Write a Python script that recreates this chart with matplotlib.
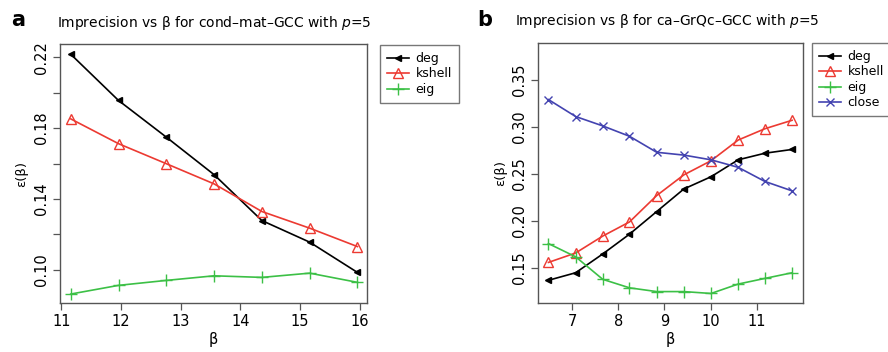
import numpy as np
import matplotlib.pyplot as plt

# panel a: cond-mat-GCC
beta_a = [11.16, 11.96, 12.76, 13.56, 14.36, 15.16, 15.96]
deg_a = [0.2217, 0.1956, 0.1749, 0.1537, 0.1278, 0.1156, 0.0985]
kshell_a = [0.1852, 0.1712, 0.1599, 0.1485, 0.1329, 0.1235, 0.1131]
eig_a = [0.0863, 0.0912, 0.0940, 0.0966, 0.0957, 0.0981, 0.0929]

# panel b: ca-GrQc-GCC
beta_b = [6.48, 7.07, 7.66, 8.24, 8.83, 9.42, 10.01, 10.60, 11.18, 11.77]
deg_b = [0.137, 0.145, 0.165, 0.186, 0.210, 0.234, 0.247, 0.265, 0.272, 0.276]
kshell_b = [0.156, 0.166, 0.184, 0.199, 0.227, 0.249, 0.264, 0.286, 0.298, 0.307]
eig_b = [0.176, 0.162, 0.138, 0.129, 0.125, 0.125, 0.123, 0.133, 0.139, 0.145]
close_b = [0.329, 0.311, 0.301, 0.290, 0.273, 0.270, 0.265, 0.257, 0.242, 0.232]

RED = '#ec3a32'
GREEN = '#3cc046'
BLUE = '#4343b0'
EDGE = '#555555'
FS = 9.5

plt.rcParams['font.family'] = 'DejaVu Sans'

fig = plt.figure(figsize=(8.88, 3.52), dpi=100)
ax1 = fig.add_axes([0.0676, 0.139, 0.3457, 0.736])
ax2 = fig.add_axes([0.6062, 0.139, 0.2977, 0.7386])


def style(ax):
    for s in ax.spines.values():
        s.set_color(EDGE)
        s.set_linewidth(1.0)
    ax.tick_params(direction='out', length=5, width=0.9, color=EDGE,
                   labelsize=FS + 1, pad=3)
    for lab in ax.get_yticklabels():
        lab.set_rotation(90)
        lab.set_va('center')
    ax.set_xlabel('β', fontsize=FS + 1, labelpad=2)
    ax.set_ylabel('ε(β)', fontsize=FS, labelpad=4)


def draw(ax, x, y, color, marker, ms, label, mfc='none', mew=1.0):
    ax.plot(x, y, color=color, lw=1.2, marker=marker, ms=ms,
            mfc=mfc, mec=color, mew=mew, label=label)


# panel a
draw(ax1, beta_a, deg_a, 'black', '<', 4.5, 'deg', mfc='black')
draw(ax1, beta_a, kshell_a, RED, '^', 7, 'kshell')
draw(ax1, beta_a, eig_a, GREEN, '+', 9, 'eig')
ax1.set_xlim(10.98, 16.12)
ax1.set_ylim(0.0812, 0.2275)
ax1.set_xticks([11, 12, 13, 14, 15, 16])
ax1.set_yticks([0.10, 0.12, 0.14, 0.16, 0.18, 0.20, 0.22])
ax1.set_yticklabels(['0.10', '', '0.14', '', '0.18', '', '0.22'])
style(ax1)
ax1.set_title('Imprecision vs β for cond–mat–GCC with $\\it{p}$=5',
              fontsize=FS + 0.5, loc='left', x=-0.01, pad=12)
fig.text(0.012, 0.925, 'a', fontsize=15, fontweight='bold')

# panel b
draw(ax2, beta_b, deg_b, 'black', '<', 4.5, 'deg', mfc='black')
draw(ax2, beta_b, kshell_b, RED, '^', 7, 'kshell')
draw(ax2, beta_b, eig_b, GREEN, '+', 9, 'eig')
draw(ax2, beta_b, close_b, BLUE, 'x', 6, 'close')
ax2.set_xlim(6.26, 12.0)
ax2.set_ylim(0.1128, 0.389)
ax2.set_xticks([7, 8, 9, 10, 11])
ax2.set_yticks([0.15, 0.20, 0.25, 0.30, 0.35])
ax2.set_yticklabels(['0.15', '0.20', '0.25', '0.30', '0.35'])
style(ax2)
ax2.set_title('Imprecision vs β for ca–GrQc–GCC with $\\it{p}$=5',
              fontsize=FS + 0.5, loc='left', x=-0.09, pad=13)
fig.text(0.538, 0.925, 'b', fontsize=15, fontweight='bold')

for ax, anchor in [(ax1, (380 / 888, 1 - 45 / 352)), (ax2, (812 / 888, 1 - 43 / 352))]:
    leg = ax.legend(loc='upper left', bbox_to_anchor=anchor,
                    bbox_transform=fig.transFigure, fontsize=FS - 0.5,
                    frameon=True, fancybox=False, edgecolor=EDGE,
                    handlelength=1.8, handletextpad=0.5, labelspacing=0.2,
                    borderpad=0.55, borderaxespad=0)
    leg.get_frame().set_linewidth(1.0)

fig.savefig('out.png', dpi=100)
